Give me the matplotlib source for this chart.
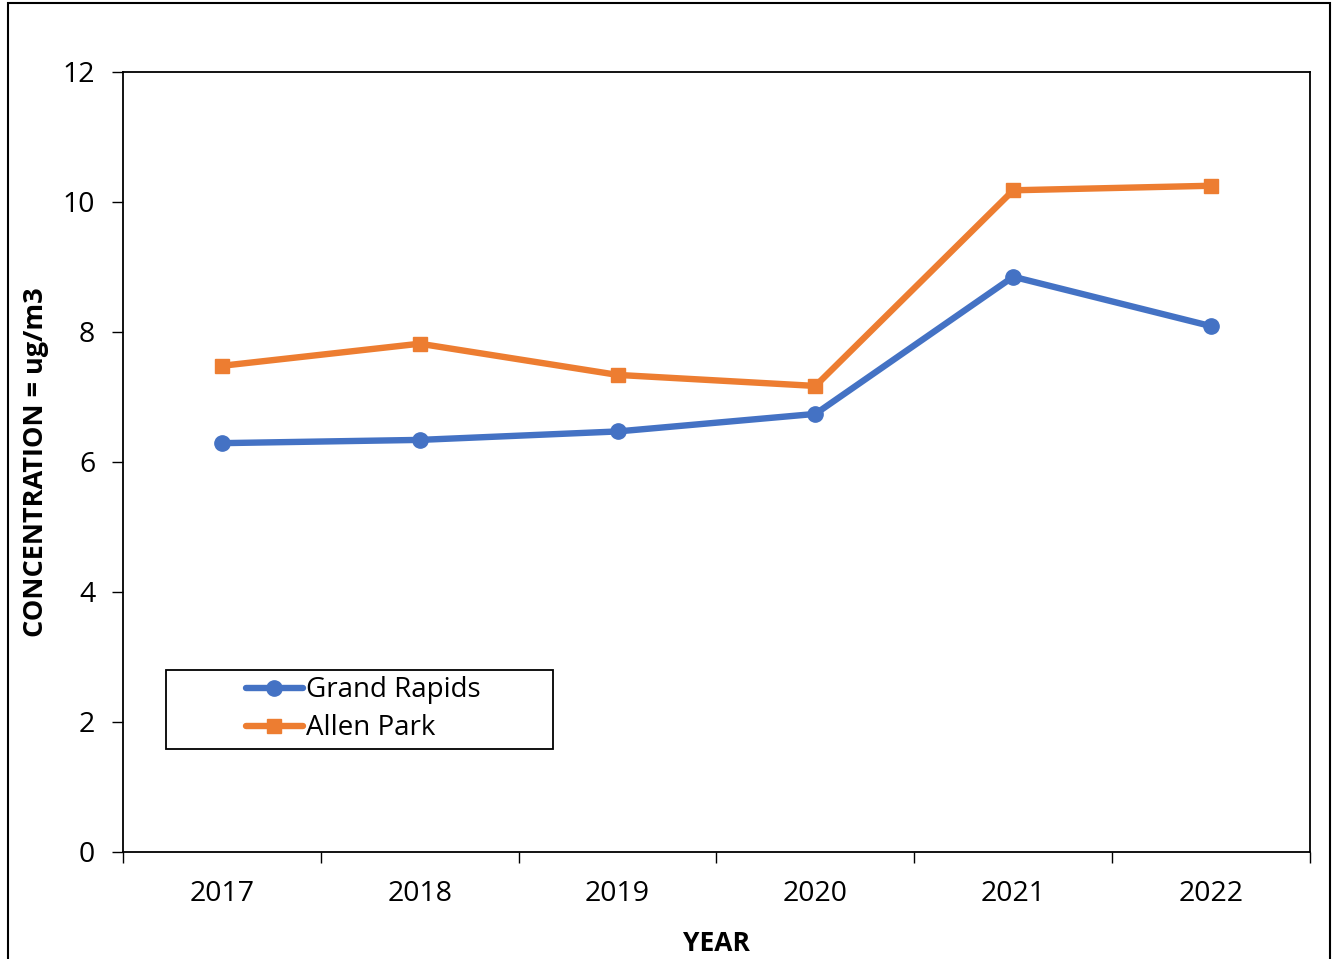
import matplotlib.pyplot as plt
from matplotlib.patches import Rectangle

years = ["2017", "2018", "2019", "2020", "2021", "2022"]
grand_rapids = [6.29, 6.34, 6.47, 6.74, 8.85, 8.09]
allen_park = [7.48, 7.82, 7.34, 7.17, 10.18, 10.25]

plt.rcParams['font.family'] = ['Open Sans', 'DejaVu Sans']

fig = plt.figure(figsize=(13.33, 9.59), dpi=100)
ax = fig.add_axes([123 / 1333, 107 / 959, 1187 / 1333, 780 / 959])

x = list(range(len(years)))
ax.plot(x, grand_rapids, color="#4472C4", linewidth=4.6, marker="o", markersize=11,
        label="Grand Rapids", solid_capstyle="round")
ax.plot(x, allen_park, color="#ED7D31", linewidth=4.6, marker="s", markersize=10.5,
        label="Allen Park", solid_capstyle="round")

ax.set_xlim(-0.5, len(years) - 0.5)
ax.set_ylim(0, 12)
ax.set_yticks(range(0, 13, 2))

# category boundaries get the tick marks, labels sit in between
ax.set_xticks([i - 0.5 for i in range(len(years) + 1)])
ax.set_xticklabels([])
ax.set_xticks(x, minor=True)
ax.set_xticklabels(years, minor=True)
ax.tick_params(axis="x", which="major", length=8, width=1, direction="out")
ax.tick_params(axis="x", which="minor", length=0, pad=20, labelsize=20.5)
ax.tick_params(axis="y", length=8, width=1, direction="out", pad=12, labelsize=20.5)

for s in ax.spines.values():
    s.set_linewidth(1.3)

ax.set_xlabel("YEAR", fontsize=19, fontweight="bold", labelpad=16)
ax.set_ylabel("CONCENTRATION = ug/m3", fontsize=19.5, fontweight="bold")
ax.yaxis.set_label_coords(-0.062, 0.5)

leg = ax.legend(loc="center left", bbox_to_anchor=(0.1036, 0.1827), fontsize=20,
                frameon=False, handlelength=2.05, handletextpad=0.1,
                borderpad=0, labelspacing=0.36, borderaxespad=0)

# legend box drawn separately to get the wide padding
ax.add_patch(Rectangle((0.0362, 0.132), 0.326, 0.1013, transform=ax.transAxes,
                       fill=False, edgecolor="black", linewidth=1.3, zorder=5))

# outer chart border
fig.patches.append(Rectangle((8 / 1333, -0.05), 1322 / 1333, 1.047, transform=fig.transFigure,
                             fill=False, edgecolor="black", linewidth=1.5))

fig.savefig("out.png", dpi=100)
